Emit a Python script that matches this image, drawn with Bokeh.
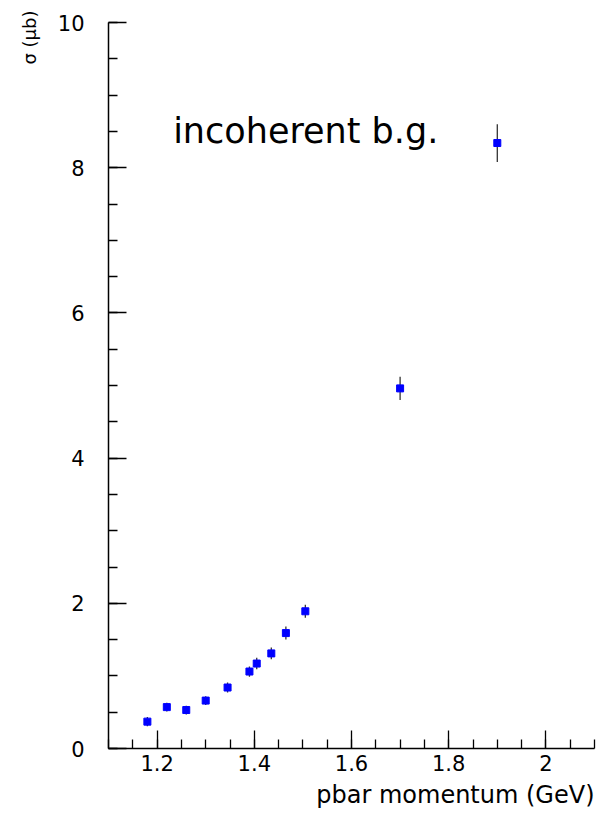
import numpy as np
from bokeh.plotting import figure
from bokeh.models import FixedTicker, Label, Title, ColumnDataSource
from bokeh.embed import file_html
from bokeh.resources import INLINE

# Measured cross sections vs antiproton momentum
momentum = [1.18, 1.22, 1.26, 1.30, 1.345, 1.39, 1.405, 1.435, 1.465, 1.505, 1.70, 1.90]
sigma = [0.37, 0.57, 0.53, 0.66, 0.84, 1.06, 1.17, 1.31, 1.59, 1.89, 4.96, 8.34]
sigma_err = [0.065, 0.06, 0.06, 0.06, 0.07, 0.07, 0.08, 0.08, 0.09, 0.09, 0.16, 0.26]

x_major = [1.2, 1.4, 1.6, 1.8, 2.0]
x_labels = ["1.2", "1.4", "1.6", "1.8", "2"]
y_major = [0, 2, 4, 6, 8, 10]
y_labels = ["0", "2", "4", "6", "8", "10"]

FONT = "DejaVu Sans"

p = figure(width=596, height=823, output_backend="svg", toolbar_location=None,
           x_range=(1.1, 2.1), y_range=(0, 10),
           min_border_left=108, min_border_right=2, min_border_top=22,
           min_border_bottom=75)
p.frame_width = 486
p.frame_height = 726
p.outline_line_color = None
p.xgrid.visible = False
p.ygrid.visible = False
p.background_fill_color = "white"
p.border_fill_color = "white"

p.xaxis.ticker = FixedTicker(ticks=x_major,
                             minor_ticks=list(np.round(np.arange(1.1, 2.101, 0.05), 3)))
p.xaxis.major_label_overrides = {v: s for v, s in zip(x_major, x_labels)}
p.yaxis.ticker = FixedTicker(ticks=y_major,
                             minor_ticks=list(np.round(np.arange(0, 10.01, 0.5), 3)))
p.yaxis.major_label_overrides = {v: s for v, s in zip(y_major, y_labels)}

for ax in (p.xaxis, p.yaxis):
    ax.axis_line_color = "black"
    ax.axis_line_width = 1.5
    ax.major_tick_in = 18
    ax.major_tick_out = 0
    ax.minor_tick_in = 9
    ax.minor_tick_out = 0
    ax.major_tick_line_color = "black"
    ax.minor_tick_line_color = "black"
    ax.major_tick_line_width = 1.3
    ax.minor_tick_line_width = 1.3
    ax.major_label_text_font = FONT
    ax.major_label_text_font_size = "21px"
    ax.major_label_text_color = "black"

p.xaxis.major_label_standoff = 6
p.yaxis.major_label_standoff = 24

src = ColumnDataSource(dict(
    x=momentum, y=sigma,
    lo=[s - e for s, e in zip(sigma, sigma_err)],
    hi=[s + e for s, e in zip(sigma, sigma_err)],
))

p.segment(x0="x", y0="lo", x1="x", y1="hi", source=src,
          line_color="#333333", line_width=1.3)
p.scatter(x="x", y="y", source=src, marker="square", size=7,
          fill_color="blue", line_color="blue")

# Axis titles, right-aligned at the far end of each axis
p.add_layout(Title(text="pbar momentum (GeV)", align="right",
                   text_font=FONT, text_font_size="24px", text_font_style="normal",
                   text_color="black", standoff=10), "below")
p.add_layout(Title(text="σ (μb)", align="right", offset=-12,
                   text_font=FONT, text_font_size="18px", text_font_style="normal",
                   text_color="black", standoff=30), "left")

p.add_layout(Label(x=1.233, y=8.51, text="incoherent b.g.",
                   text_align="left", text_baseline="alphabetic",
                   text_font=FONT, text_font_size="35px", text_color="black"))

open("out.html", "w").write(file_html(p, INLINE))
